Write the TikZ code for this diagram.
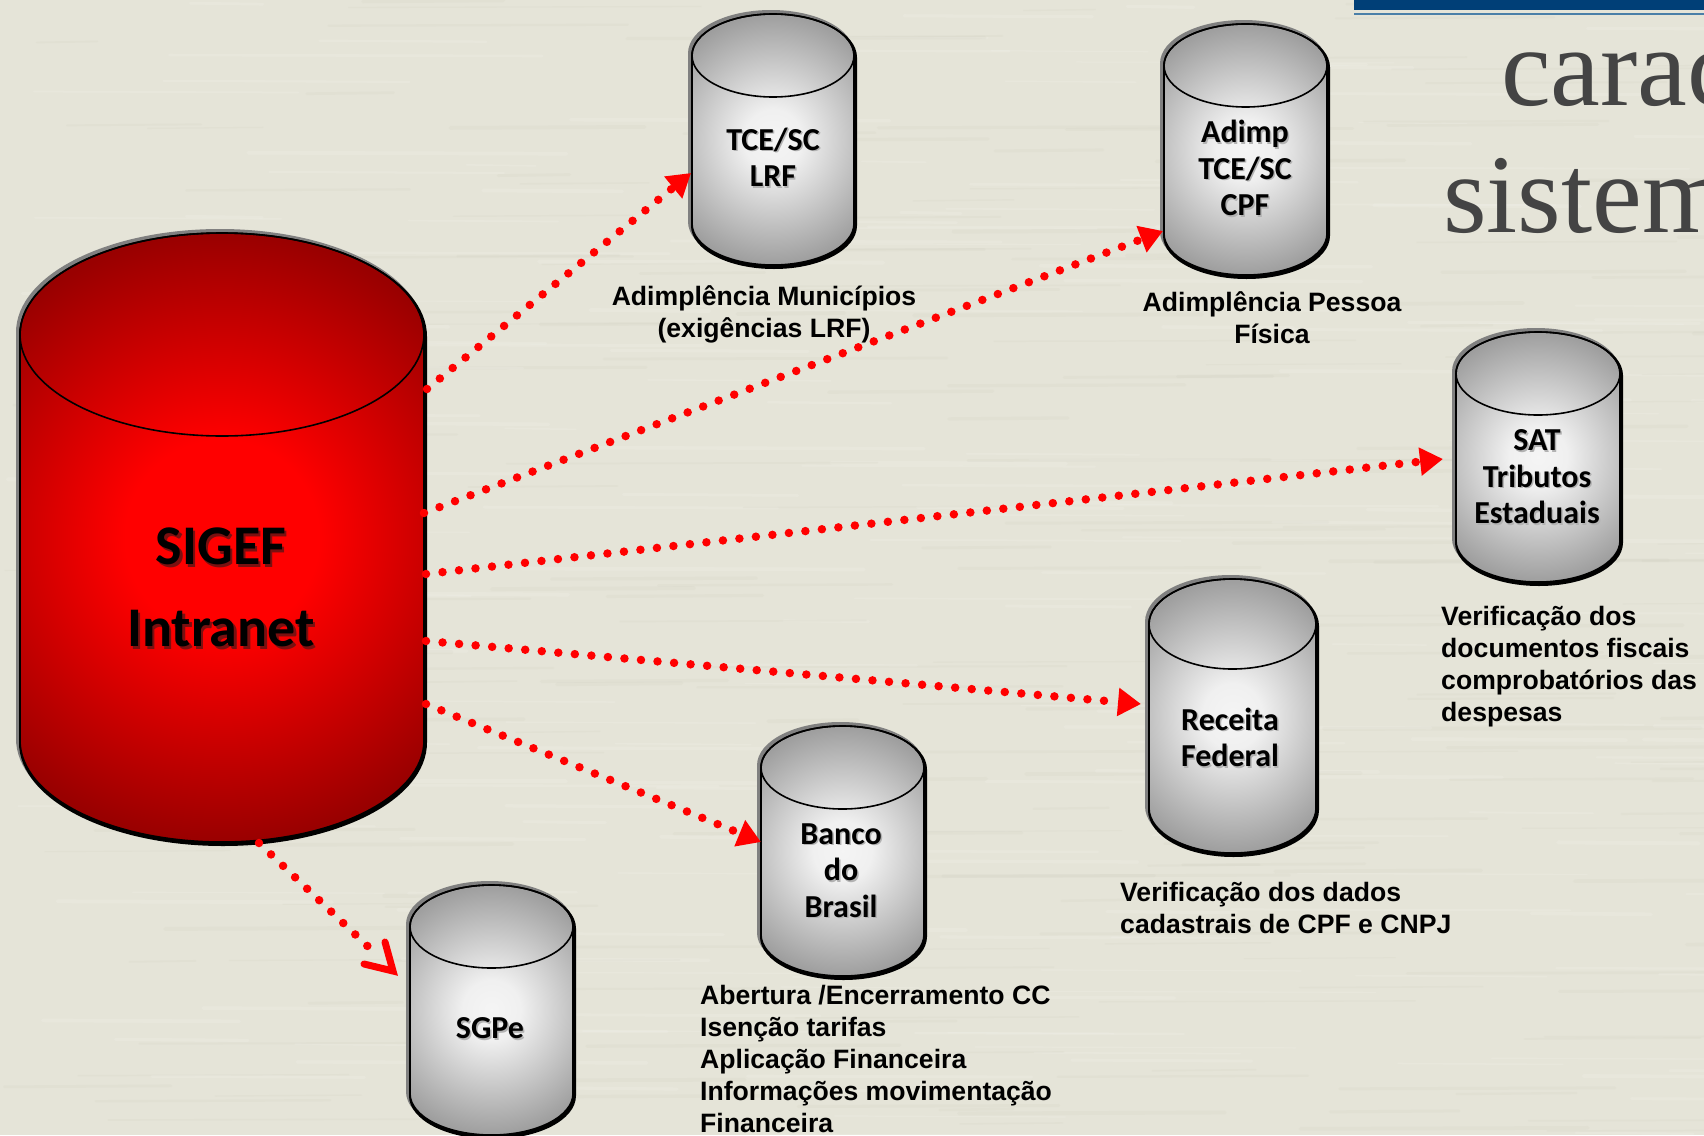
\documentclass[tikz,border=0pt]{standalone}
\usepackage{fontspec}
\setmainfont{Liberation Sans}
\newfontfamily\cylfont{Carlito}
\newfontfamily\titlefont{Liberation Serif}
\usetikzlibrary{arrows.meta}
\pgfdeclareradialshading{graycyl}{\pgfpoint{0bp}{0bp}}{rgb(0bp)=(0.96,0.96,0.96);rgb(6bp)=(0.94,0.94,0.94);rgb(25bp)=(0.62,0.62,0.62);rgb(40bp)=(0.5,0.5,0.5);rgb(50bp)=(0.5,0.5,0.5)}
\pgfdeclareradialshading{redcyl}{\pgfpoint{0bp}{0bp}}{rgb(0bp)=(1,0,0);rgb(8bp)=(1,0,0);rgb(25bp)=(0.6,0,0);rgb(40bp)=(0.5,0,0);rgb(50bp)=(0.5,0,0)}
\definecolor{paper}{HTML}{E5E4D8}
\definecolor{streakdark}{HTML}{CFCEC0}
\definecolor{navy}{HTML}{003F77}
\definecolor{rule}{HTML}{4A7FA8}
\definecolor{titlegray}{HTML}{444444}
\definecolor{bigshadow}{HTML}{7A1010}
\newcommand\shtext[1]{\makebox[0pt][l]{\raisebox{-1.5pt}{\hspace{1.5pt}\textcolor{black!30}{#1}}}#1}
\newcommand\shbig[1]{\makebox[0pt][l]{\raisebox{-2.5pt}{\hspace{2.5pt}\textcolor{bigshadow}{#1}}}#1}
\tikzset{
  link/.style={red,line width=8.5pt,line cap=round,dash pattern=on 0pt off 16.6pt,
    -{Triangle[length=23pt,width=27pt,sep=0pt]}},
  openlink/.style={red,line width=8.5pt,line cap=round,dash pattern=on 0pt off 16.6pt},
  openbarb/.style={red,line width=7pt,line cap=round,line join=miter},
  caption/.style={inner sep=0pt,font=\fontsize{26.6}{32}\selectfont\bfseries,text=black},
  cyltext/.style={inner sep=0pt,align=center,font=\cylfont\fontsize{32}{36.5}\selectfont\bfseries,text=black},
  bigtext/.style={inner sep=0pt,align=center,font=\cylfont\fontsize{56}{82}\selectfont\bfseries,text=black},
  titletext/.style={inner sep=0pt,anchor=base west,font=\titlefont\fontsize{112}{112}\selectfont,text=titlegray},
}
% name, x0, x1, ytop, ybot, ry, shading
\newcommand\cyl[7]{%
  \pgfmathsetmacro\rx{(#3-#2)/2}%
  \pgfmathsetmacro\yu{#4+#6}%
  \pgfmathsetmacro\yl{#5-#6}%
  \pgfmathsetmacro\sw{(#3-#2)*0.25}%
  \def\outline{(#2,\yu) arc[start angle=180,end angle=360,x radius=\rx,y radius=#6] -- (#3,\yl) arc[start angle=0,end angle=180,x radius=\rx,y radius=#6] -- cycle}%
  \draw[black!50,line width=4pt,line join=round,shift={(-2,-2)}] \outline;%
  \draw[black,line width=4pt,line join=round,shift={(1,2)}] \outline;%
  \begin{scope}
    \clip \outline;
    \shade[shading=#7] (#2-\sw,#4) rectangle (#3+\sw,#5);
  \end{scope}
  \draw[black,line width=1.6pt] \outline;%
  \draw[black,line width=1.6pt] (#2+\rx,\yu) ellipse[x radius=\rx,y radius=#6];%
  \coordinate (#1) at (#2+\rx,{(#4+#5)/2});%
}
\begin{document}
\begin{tikzpicture}[x=1pt,y=-1pt]
\useasboundingbox (0,0) rectangle (1704,1135);
\clip (0,0) rectangle (1704,1135);
\fill[paper] (0,0) rectangle (1704,1135);
% paper texture
\pgfmathsetseed{4217}
\foreach \i in {1,...,420}{
  \pgfmathsetmacro\sx{rnd*1704}
  \pgfmathsetmacro\sy{rnd*1135}
  \pgfmathsetmacro\sl{60+rnd*320}
  \pgfmathsetmacro\st{1+rnd*3}
  \pgfmathtruncatemacro\pick{mod(\i,2)}
  \ifnum\pick=0
    \draw[white,opacity=.12,line width=\st pt,line cap=round] (\sx,\sy) -- (\sx+\sl,\sy+1);
  \else
    \draw[streakdark,opacity=.18,line width=\st pt,line cap=round] (\sx,\sy) -- (\sx+\sl,\sy-1);
  \fi
}
% header bar
\fill[navy] (1354,0) rectangle (1704,10);
\draw[rule,line width=1.2pt] (1354,14) -- (1704,14);
% title fragments
\node[titletext] (titleA) at (1501,105) {carac};
\node[titletext] (titleB) at (1443,232) {sistem};
% cylinders
\cyl{sigef}{20}{424}{233}{842}{101.5}{redcyl}
\cyl{tce}{692}{854}{14}{265}{41.5}{graycyl}
\cyl{adimp}{1164}{1327}{24}{275}{41.5}{graycyl}
\cyl{sat}{1456}{1620}{332}{582}{41.5}{graycyl}
\cyl{receita}{1149}{1316}{579}{853}{45}{graycyl}
\cyl{banco}{761}{924}{726}{976}{41.5}{graycyl}
\cyl{sgpe}{410}{573}{885}{1135}{41.5}{graycyl}
% cylinder labels
\node[bigtext] (sigefL) at (221,589) {\shbig{SIGEF}\\\shbig{Intranet}};
\node[cyltext] (tceL) at (773,158) {\shtext{TCE/SC}\\\shtext{LRF}};
\node[cyltext] (adimpL) at (1245,169) {\shtext{Adimp}\\\shtext{TCE/SC}\\\shtext{CPF}};
\node[cyltext] (satL) at (1537,477.5) {\shtext{SAT}\\\shtext{Tributos}\\\shtext{Estaduais}};
\node[cyltext] (receitaL) at (1230,738) {\shtext{Receita}\\\shtext{Federal}};
\node[cyltext] (bancoL) at (841,871) {\shtext{Banco}\\\shtext{do}\\\shtext{Brasil}};
\node[cyltext] (sgpeL) at (490,1029) {\shtext{SGPe}};
% captions
\node[caption,align=center] (capTce) at (764,314) {Adimplência Municípios\\(exigências LRF)};
\node[caption,align=center] (capAdimp) at (1272,318) {Adimplência Pessoa\\Física};
\node[caption,align=left,anchor=north west] (capSat) at (1441,606) {Verificação dos\\documentos fiscais\\comprobatórios das\\despesas};
\node[caption,align=left,anchor=north west] (capReceita) at (1120,882) {Verificação dos dados\\cadastrais de CPF e CNPJ};
\node[caption,align=left,anchor=north west] (capBanco) at (700,985) {Abertura /Encerramento CC\\Isenção tarifas\\Aplicação Financeira\\Informações movimentação\\Financeira};
% connector ends
\coordinate (s1) at (427,389);
\coordinate (e1) at (691,173);
\coordinate (s2) at (424,513);
\coordinate (e2) at (1163,231);
\coordinate (s3) at (426,574);
\coordinate (e3) at (1443,459);
\coordinate (s4) at (426,641);
\coordinate (e4) at (1141,704);
\coordinate (s5) at (426,704);
\coordinate (e5) at (761,842);
\coordinate (s6) at (259,843);
\coordinate (d6) at (379,957);
\coordinate (v6) at (393,971);
\coordinate (b6a) at (385,942);
\coordinate (b6b) at (364,964);
\draw[link] (s1) -- (e1);
\draw[link] (s2) -- (e2);
\draw[link] (s3) -- (e3);
\draw[link] (s4) -- (e4);
\draw[link] (s5) -- (e5);
\draw[openlink] (s6) -- (d6);
\draw[openbarb] (b6a) -- (v6) -- (b6b);
\end{tikzpicture}
\end{document}
